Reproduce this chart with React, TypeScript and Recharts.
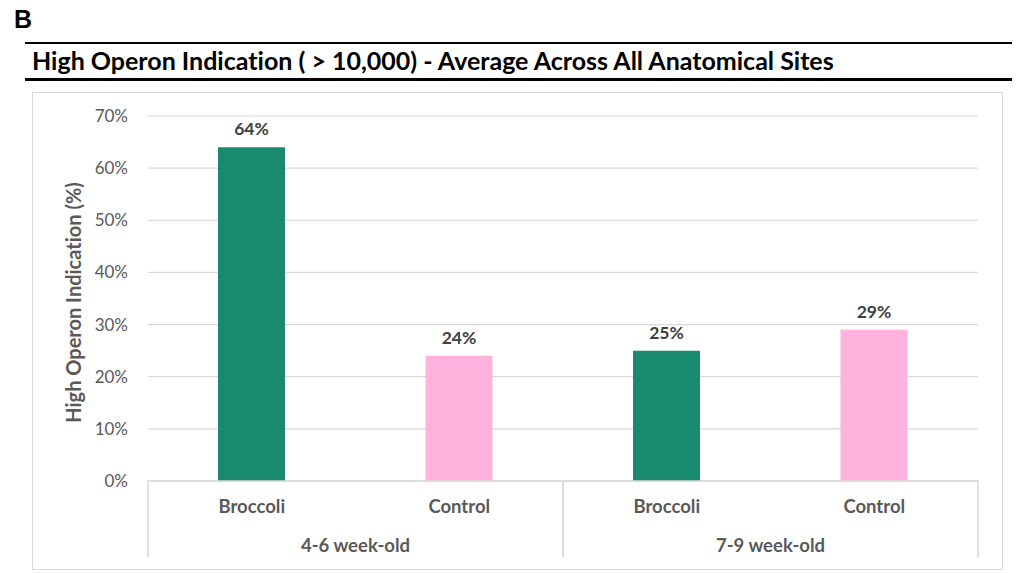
import { BarChart, Bar, XAxis, YAxis, CartesianGrid, Cell, LabelList } from 'recharts';

const categories = ['Broccoli', 'Control', 'Broccoli', 'Control'];
const groups = ['4-6 week-old', '4-6 week-old', '7-9 week-old', '7-9 week-old'];
const values = [64, 24, 25, 29];
const yTicks = [0, 10, 20, 30, 40, 50, 60, 70];

const GREEN = '#1a8a6e';
const PINK = '#ffb3de';
const barColors = [GREEN, PINK, GREEN, PINK];

const FONT = 'Lato, "Noto Sans", sans-serif';
const GRID = '#d9d9d9';

const data = categories.map((c, i) => ({ name: c, group: groups[i], value: values[i], key: i }));

// plot box (chart-local coords)
const CHART_W = 971;
const CHART_H = 478;
const M = { top: 24, right: 25, left: 0, bottom: 0 };
const Y_W = 116;
const PLOT_W = CHART_W - M.left - M.right - Y_W;
const HALF_GROUP = PLOT_W / 4;

function GroupTick(props: any) {
  const { x, y, payload } = props;
  const left = x - HALF_GROUP;
  const right = x + HALF_GROUP;
  const top = y - 49;
  return (
    <g>
      <line x1={left} x2={left} y1={top} y2={y + 28} stroke={GRID} strokeWidth={1.5} />
      <line x1={right} x2={right} y1={top} y2={y + 28} stroke={GRID} strokeWidth={1.5} />
      <text x={x} y={y + 23} textAnchor="middle" fill="#595959" fontFamily={FONT} fontWeight={700} fontSize={18.5}>
        {payload.value}
      </text>
    </g>
  );
}

export default function App() {
  return (
    <div style={{ position: 'absolute', left: 0, top: 0, width: 1023, height: 573, background: '#fff', fontFamily: FONT, fontVariantLigatures: 'none' }}>
      <div style={{ position: 'absolute', left: 14, top: 5, fontSize: 25, fontWeight: 700, fontFamily: '"Liberation Sans", Arial, sans-serif', color: '#000' }}>B</div>
      <div style={{ position: 'absolute', left: 25, top: 42, width: 987, height: 1.5, background: '#000' }} />
      <div style={{ position: 'absolute', left: 32, top: 44, fontSize: 25, fontWeight: 700, color: '#000', whiteSpace: 'nowrap', lineHeight: '32px' }}>
        High Operon Indication ( &gt; 10,000) - Average Across All Anatomical Sites
      </div>
      <div style={{ position: 'absolute', left: 25, top: 78, width: 987, height: 3, background: '#000' }} />
      <div style={{ position: 'absolute', left: 32, top: 92, width: CHART_W, height: CHART_H, border: `1px solid ${GRID}`, boxSizing: 'border-box' }} />
      <div style={{ position: 'absolute', left: 32, top: 92 }}>
        <BarChart width={CHART_W} height={CHART_H} data={data} margin={M} barCategoryGap={0}>
          <CartesianGrid vertical={false} stroke={GRID} strokeWidth={1.2} />
          <YAxis
            width={Y_W}
            domain={[0, 70]}
            ticks={yTicks}
            tickFormatter={(v: number) => `${v}%`}
            axisLine={false}
            tickLine={false}
            tickMargin={14}
            tick={{ fill: '#595959', fontSize: 17, fontFamily: FONT }}
            label={(p: any) => {
              const vb = p.viewBox;
              const cx = vb.x + 41;
              const cy = vb.y + vb.height / 2 + 4;
              return (
                <text x={cx} y={cy} transform={`rotate(-90 ${cx} ${cy})`} textAnchor="middle" dominantBaseline="central" fill="#595959" fontFamily={FONT} fontWeight={700} fontSize={20}>
                  High Operon Indication (%)
                </text>
              );
            }}
          />
          <XAxis
            dataKey="key"
            height={40}
            axisLine={{ stroke: GRID, strokeWidth: 1.5 }}
            tickLine={false}
            tick={(p: any) => (
              <text x={p.x} y={p.y + 24} textAnchor="middle" fill="#595959" fontFamily={FONT} fontWeight={700} fontSize={18.5}>
                {categories[p.payload.value]}
              </text>
            )}
          />
          <XAxis
            xAxisId="group"
            dataKey="group"
            allowDuplicatedCategory={false}
            height={49}
            axisLine={false}
            tickLine={false}
            tick={<GroupTick />}
          />
          <Bar dataKey="value" barSize={67} isAnimationActive={false}>
            {data.map((d, i) => (
              <Cell key={d.key} fill={barColors[i]} />
            ))}
            <LabelList
              dataKey="value"
              position="top"
              offset={12}
              formatter={(v: any) => `${v}%`}
              fill="#404040"
              fontFamily={FONT}
              fontWeight={700}
              fontSize={17.5}
            />
          </Bar>
        </BarChart>
      </div>
    </div>
  );
}
